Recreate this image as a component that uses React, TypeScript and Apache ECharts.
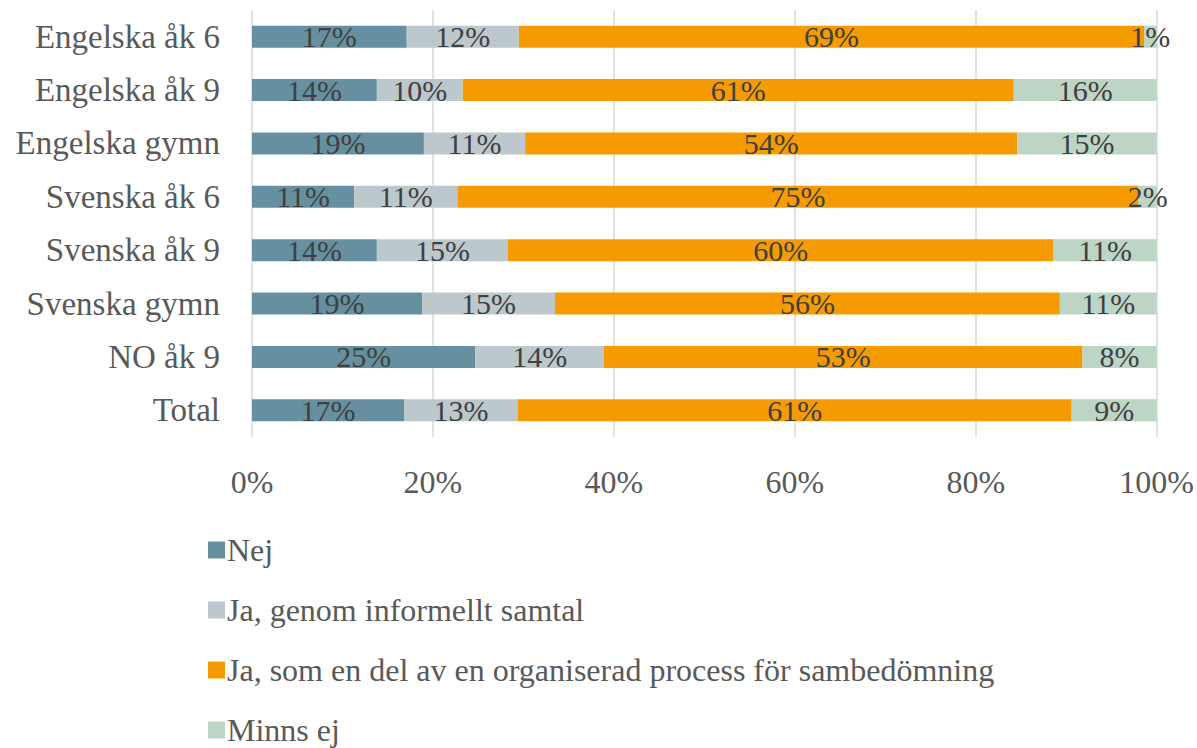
import React, { useEffect, useRef } from "react";
import * as echarts from "echarts";

const categories = [
  "Engelska åk 6",
  "Engelska åk 9",
  "Engelska gymn",
  "Svenska åk 6",
  "Svenska åk 9",
  "Svenska gymn",
  "NO åk 9",
  "Total",
];
const seriesNames = [
  "Nej",
  "Ja, genom informellt samtal",
  "Ja, som en del av en organiserad process för sambedömning",
  "Minns ej",
];
const nej = [17.1, 13.8, 19.0, 11.3, 13.8, 18.8, 24.7, 16.8];
const jaInformellt = [12.4, 9.5, 11.2, 11.4, 14.5, 14.7, 14.2, 12.6];
const jaOrganiserad = [69.1, 60.9, 54.4, 75.3, 60.3, 55.8, 52.9, 61.2];
const minnsEj = [1.4, 15.8, 15.4, 2.0, 11.4, 10.7, 8.2, 9.4];
const colors = ["#668F9F", "#BDC8CC", "#F59B00", "#BDD5C5"];
const xTicks = [0, 20, 40, 60, 80, 100];

const FONT = "Liberation Serif";

export default function App() {
  const ref = useRef<HTMLDivElement>(null);
  useEffect(() => {
    document.body.style.margin = "0";
    const chart = echarts.init(ref.current!, null, { renderer: "svg" });
    const data = [nej, jaInformellt, jaOrganiserad, minnsEj];
    chart.setOption({
      animation: false,
      textStyle: { fontFamily: FONT },
      grid: { left: 252, right: 39, top: 10, height: 427, containLabel: false },
      xAxis: {
        type: "value",
        min: xTicks[0],
        max: xTicks[xTicks.length - 1],
        interval: 20,
        axisLine: { show: false },
        axisTick: { show: false },
        splitLine: { show: true, lineStyle: { color: "#D9D9D9", width: 1.5 } },
        axisLabel: {
          formatter: (v: number) => v + "%",
          color: "#595959",
          fontFamily: FONT,
          fontSize: 32,
          margin: 29,
        },
      },
      yAxis: {
        type: "category",
        data: categories,
        inverse: true,
        axisLine: { show: false },
        axisTick: { show: false },
        axisLabel: { color: "#595959", fontFamily: FONT, fontSize: 33, margin: 32 },
      },
      legend: {
        orient: "vertical",
        left: 203,
        top: 529,
        height: 400,
        itemWidth: 17,
        itemHeight: 17,
        itemGap: 28,
        icon: "rect",
        data: seriesNames,
        textStyle: {
          color: "#595959",
          fontFamily: FONT,
          fontSize: 32,
          padding: [0, 0, 0, -3],
        },
      },
      series: seriesNames.map((name, i) => ({
        name,
        type: "bar",
        stack: "total",
        barWidth: 22,
        itemStyle: { color: colors[i] },
        label: {
          show: true,
          position: "inside",
          color: "#404040",
          fontFamily: FONT,
          fontSize: 30,
          formatter: (p: any) => Math.round(p.value) + "%",
        },
        data: data[i],
      })),
    });
    return () => chart.dispose();
  }, []);
  return (
    <div
      ref={ref}
      style={{ position: "absolute", left: 0, top: 0, width: 1197, height: 748 }}
    />
  );
}
